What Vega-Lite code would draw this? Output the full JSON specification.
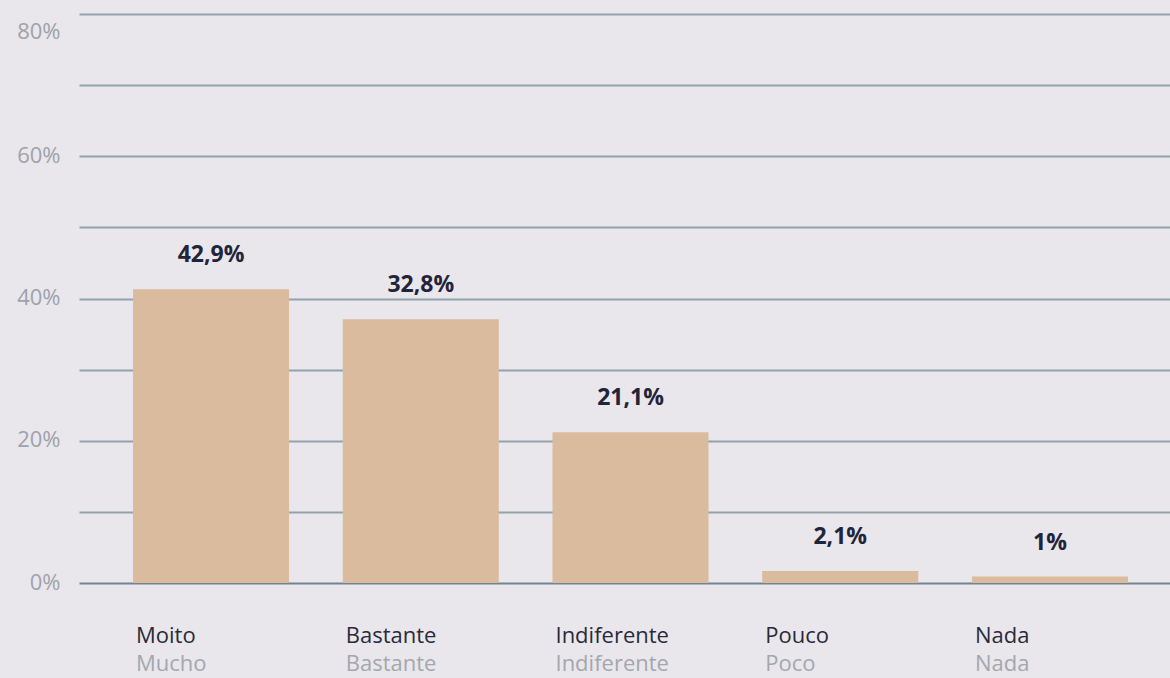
{
  "$schema": "https://vega.github.io/schema/vega-lite/v6.json",
  "autosize": "none",
  "width": 1091,
  "height": 569,
  "padding": {"left": 79, "top": 14, "right": 0, "bottom": 95},
  "background": "#e9e7ec",
  "config": {
    "view": {"stroke": null},
    "font": "Open Sans"
  },
  "data": {
    "values": [
      {"cat": "Moito", "es": "Mucho", "altura": 0.413, "etiqueta": "42,9%"},
      {"cat": "Bastante", "es": "Bastante", "altura": 0.371, "etiqueta": "32,8%"},
      {"cat": "Indiferente", "es": "Indiferente", "altura": 0.212, "etiqueta": "21,1%"},
      {"cat": "Pouco", "es": "Poco", "altura": 0.017, "etiqueta": "2,1%"},
      {"cat": "Nada", "es": "Nada", "altura": 0.009, "etiqueta": "1%"}
    ]
  },
  "encoding": {
    "x": {
      "field": "cat",
      "type": "nominal",
      "sort": null,
      "axis": null,
      "scale": {"paddingInner": 0.256, "paddingOuter": 0.229, "align": 0.5625}
    }
  },
  "layer": [
    {
      "mark": {"type": "bar", "color": "#dbbb9d"},
      "encoding": {
        "y": {
          "field": "altura",
          "type": "quantitative",
          "scale": {"domain": [0, 0.8], "nice": false, "zero": true},
          "axis": {
            "title": null,
            "values": [0, 0.1, 0.2, 0.3, 0.4, 0.5, 0.6, 0.7, 0.8],
            "labelExpr": "round(datum.value*10) % 2 == 0 ? round(datum.value*100) + '%' : ''",
            "domain": false,
            "ticks": false,
            "labelPadding": 19,
            "labelFontSize": 22,
            "labelColor": "#9ea2a9",
            "labelFont": "Open Sans",
            "labelOffset": {"condition": {"test": "datum.value >= 0.75", "value": 17}, "value": -1},
            "grid": true,
            "gridColor": {"condition": {"test": "datum.value == 0", "value": "#6f8592"}, "value": "#93a1ab"},
            "gridWidth": 2,
            "zindex": 0
          }
        }
      }
    },
    {
      "mark": {"type": "text", "fontSize": 23, "fontWeight": "bold", "color": "#22243a", "baseline": "middle", "dy": -34},
      "encoding": {
        "y": {"field": "altura", "type": "quantitative"},
        "text": {"field": "etiqueta"}
      }
    },
    {
      "mark": {"type": "text", "fontSize": 22, "color": "#2a2a3a", "align": "left", "baseline": "middle", "dx": 3, "dy": 53},
      "encoding": {
        "x": {"field": "cat", "type": "nominal", "sort": null, "bandPosition": 0},
        "y": {"datum": 0},
        "text": {"field": "cat"}
      }
    },
    {
      "mark": {"type": "text", "fontSize": 22, "color": "#a3a7ae", "align": "left", "baseline": "middle", "dx": 3, "dy": 81},
      "encoding": {
        "x": {"field": "cat", "type": "nominal", "sort": null, "bandPosition": 0},
        "y": {"datum": 0},
        "text": {"field": "es"}
      }
    }
  ]
}
